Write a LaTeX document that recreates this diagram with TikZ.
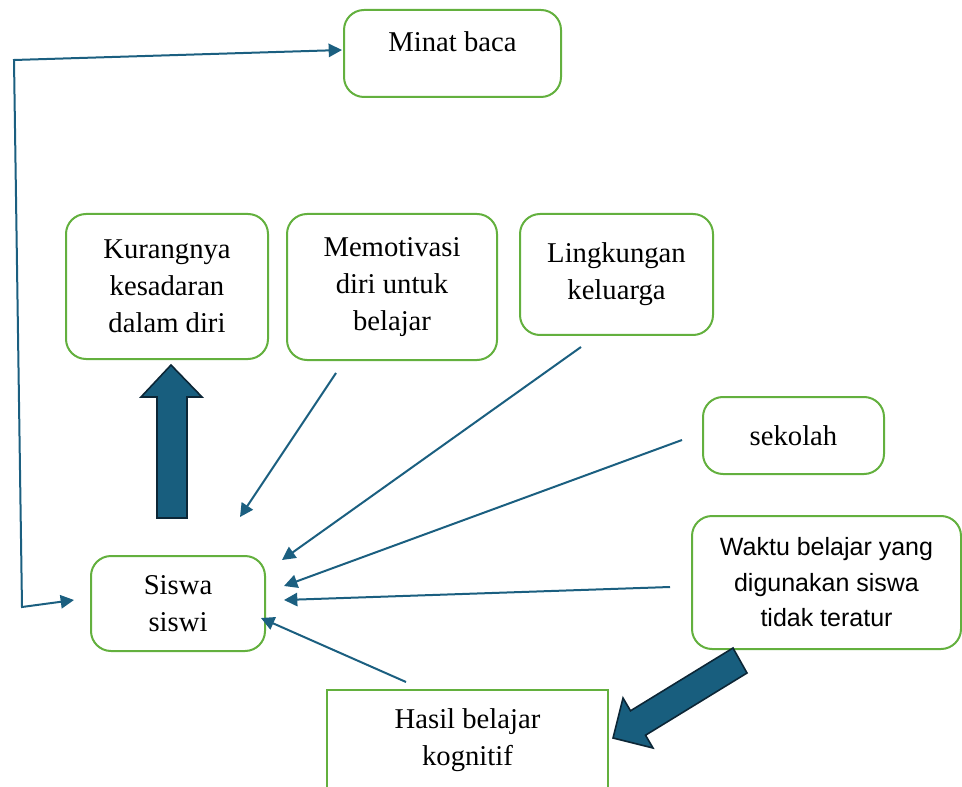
\documentclass[tikz,border=0pt]{standalone}
\usepackage{fontspec}
\setmainfont{Liberation Serif}
\newfontfamily\waktufont{Liberation Sans}
\usetikzlibrary{arrows.meta}
\definecolor{boxgreen}{RGB}{99,176,62}
\definecolor{linkblue}{RGB}{27,95,128}
\definecolor{blockfill}{RGB}{24,94,126}
\definecolor{blockedge}{RGB}{12,38,54}

\begin{document}
\begin{tikzpicture}
  [x=0.75pt, y=-0.75pt,
    font=\fontsize{21.5pt}{27.75pt}\selectfont,
    box/.style={draw=boxgreen, line width=1.5pt, rounded corners=15pt,
      align=center, inner sep=0pt},
    link/.style={draw=linkblue, line width=1.5pt,
      -{Triangle[length=10pt,width=10pt]}},
    bigarrow/.style={fill=blockfill, draw=blockedge, line width=1.2pt}]

  \clip (0,0) rectangle (962,787);

  % boxes
  \node[box, minimum width=162.75pt, inner ysep=0pt,
    text height=31.5pt, text depth=33.75pt] (minat) at (452.5,53.5) {Minat baca};
  \node[box, minimum width=151.5pt, minimum height=108.75pt]
    (kurang) at (167,286.5) {Kurangnya\\kesadaran\\dalam diri};
  \node[box, minimum width=157.5pt, minimum height=109.5pt]
    (motivasi) at (392,287) {Memotivasi\\diri untuk\\belajar};
  \node[box, minimum width=144.75pt, minimum height=90.75pt]
    (lingkungan) at (616.5,274.5) {Lingkungan\\keluarga};
  \node[box, minimum width=135.75pt, minimum height=57.75pt]
    (sekolah) at (793.5,435.5) {sekolah};
  \node[box, minimum width=201.75pt, minimum height=99.75pt,
    font=\waktufont\fontsize{18.75pt}{26.6pt}\selectfont]
    (waktu) at (826.5,582.5) {Waktu belajar yang\\digunakan siswa\\tidak teratur};
  \node[box, minimum width=130.5pt, minimum height=71.25pt]
    (siswa) at (178,603.5) {Siswa\\siswi};
  \node[box, rounded corners=0pt, minimum width=210.75pt, minimum height=75pt]
    (hasil) at (467.5,740) {Hasil belajar\\kognitif};

  % connectors
  \coordinate (bendlow) at (22,607);
  \coordinate (bendtop) at (14,60);
  \draw[link, {Triangle[length=10pt,width=10pt]}-{Triangle[length=10pt,width=10pt]}]
    ([shift={(-16,-3.5)}]siswa.west) -- (bendlow) -- (bendtop)
    -- ([shift={(-1,-3.5)}]minat.west);
  \draw[link] ([shift={(-56,12)}]motivasi.south) -- ([shift={(62,-38)}]siswa.north);
  \draw[link] ([shift={(-35.5,11)}]lingkungan.south) -- ([shift={(16,5)}]siswa.north east);
  \draw[link] ([shift={(-20,4.5)}]sekolah.west) -- ([shift={(18,-17.5)}]siswa.east);
  \draw[link] ([shift={(-21,4.5)}]waktu.west) -- ([shift={(18,-3.5)}]siswa.east);
  \draw[link] ([shift={(-61.5,-7)}]hasil.north) -- ([shift={(-5,14.5)}]siswa.east);

  % block arrows
  \draw[bigarrow] (157,518) -- (157,397) -- (141,397) -- (171,365)
    -- (202,397) -- (187,397) -- (187,518) -- cycle;
  \draw[bigarrow] (733,648) -- (630.5,710.8) -- (623,698) -- (613,738)
    -- (653,748) -- (645.5,735.2) -- (747,673) -- cycle;

\end{tikzpicture}
\end{document}
